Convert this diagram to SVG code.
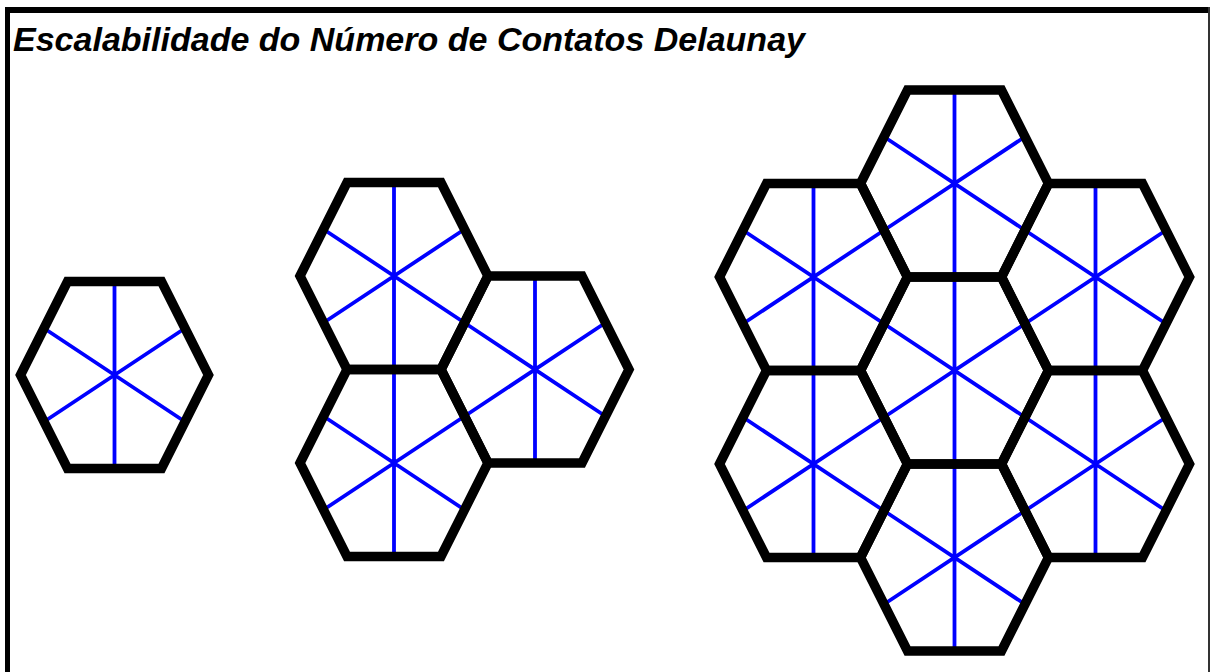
<svg xmlns="http://www.w3.org/2000/svg" xmlns:xlink="http://www.w3.org/1999/xlink" width="1213" height="672" viewBox="0 0 1213 672">
<style>
.hex{fill:none;stroke:#000;stroke-width:9.5;stroke-linejoin:miter}
.spk{fill:none;stroke:#0000ff;stroke-width:3.8}
.title{font-family:"Liberation Sans",Arial,sans-serif;font-weight:bold;font-style:italic;font-size:33px;fill:#000}
</style>
<defs>
<polygon id="hx" class="hex" points="-94,0 -47,-93.5 47,-93.5 94,0 47,93.5 -47,93.5"/>
<path id="sp" class="spk" d="M0,-93.5V93.5M-70.5,-46.75L70.5,46.75M-70.5,46.75L70.5,-46.75"/>
</defs>
<rect x="0" y="0" width="1213" height="672" fill="#fff"/>
<g id="frame">
<line x1="5" y1="10" x2="1210" y2="10" stroke="#000" stroke-width="6"/>
<line x1="7.5" y1="7" x2="7.5" y2="672" stroke="#000" stroke-width="5"/>
<line x1="1209" y1="7" x2="1209" y2="672" stroke="#333" stroke-width="2"/>
</g>
<text class="title" x="13" y="51" textLength="792" lengthAdjust="spacingAndGlyphs">Escalabilidade do Número de Contatos Delaunay</text>
<g id="connectors">
<use xlink:href="#sp" href="#sp" x="114.5" y="375"/>
<use xlink:href="#sp" href="#sp" x="394" y="276"/>
<use xlink:href="#sp" href="#sp" x="394" y="463"/>
<use xlink:href="#sp" href="#sp" x="535" y="369.5"/>
<use xlink:href="#sp" href="#sp" x="954.5" y="183.5"/>
<use xlink:href="#sp" href="#sp" x="954.5" y="370.5"/>
<use xlink:href="#sp" href="#sp" x="954.5" y="557.5"/>
<use xlink:href="#sp" href="#sp" x="813.5" y="277"/>
<use xlink:href="#sp" href="#sp" x="813.5" y="464"/>
<use xlink:href="#sp" href="#sp" x="1095.5" y="277"/>
<use xlink:href="#sp" href="#sp" x="1095.5" y="464"/>
</g>
<g id="cell1"><use xlink:href="#hx" href="#hx" x="114.5" y="375"/></g>
<g id="cell2a"><use xlink:href="#hx" href="#hx" x="394" y="276"/></g>
<g id="cell2b"><use xlink:href="#hx" href="#hx" x="394" y="463"/></g>
<g id="cell2c"><use xlink:href="#hx" href="#hx" x="535" y="369.5"/></g>
<g id="cell3top"><use xlink:href="#hx" href="#hx" x="954.5" y="183.5"/></g>
<g id="cell3center"><use xlink:href="#hx" href="#hx" x="954.5" y="370.5"/></g>
<g id="cell3bottom"><use xlink:href="#hx" href="#hx" x="954.5" y="557.5"/></g>
<g id="cell3lt"><use xlink:href="#hx" href="#hx" x="813.5" y="277"/></g>
<g id="cell3lb"><use xlink:href="#hx" href="#hx" x="813.5" y="464"/></g>
<g id="cell3rt"><use xlink:href="#hx" href="#hx" x="1095.5" y="277"/></g>
<g id="cell3rb"><use xlink:href="#hx" href="#hx" x="1095.5" y="464"/></g>
</svg>
